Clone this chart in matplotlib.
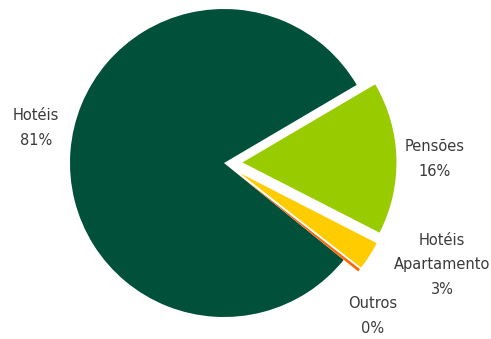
import matplotlib.pyplot as plt

categories = ["Hotéis", "Pensões", "Hotéis\nApartamento", "Outros"]
values = [80.7, 16.0, 3.0, 0.3]
pct_labels = ["81%", "16%", "3%", "0%"]
colors = ["#00503A", "#99CC00", "#FFCC00", "#FF6600"]

W, H = 491, 339
cx, cy, r = 224, 163, 154  # pie centre / radius in pixels

fig = plt.figure(figsize=(W / 100, H / 100), dpi=100)
ax = fig.add_axes([0, 0, 1, 1])
ax.pie(
    values,
    colors=colors,
    startangle=-39.0,
    counterclock=False,
    explode=[0, 0.12, 0.12, 0.12],
    wedgeprops=dict(linewidth=0),
)
ax.set_xlim(-cx / r, (W - cx) / r)
ax.set_ylim(-(H - cy) / r, cy / r)
ax.set_aspect("auto")
ax.axis("off")

# label positions in pixels (from top-left)
label_pos = [(36, 128), (435, 159), (442, 265), (373, 316)]
for name, pct, (px, py) in zip(categories, pct_labels, label_pos):
    fig.text(px / W, 1 - py / H, name + "\n" + pct, ha="center", va="center",
             fontsize=10.5, color="#3a3a3a", linespacing=1.8)

fig.savefig("out.png", dpi=100)
